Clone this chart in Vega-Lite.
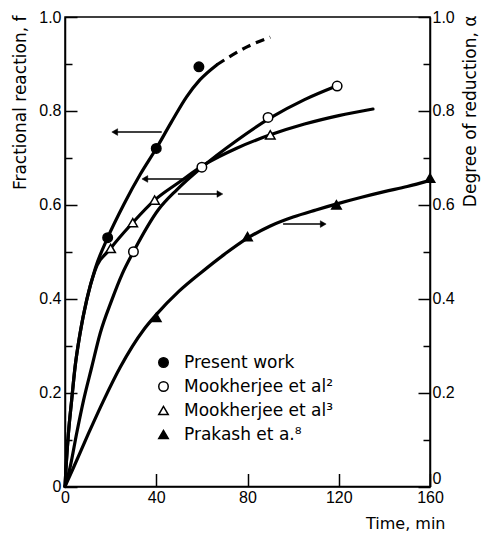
{
  "$schema": "https://vega.github.io/schema/vega-lite/v6.json",
  "width": 365,
  "height": 469.5,
  "autosize": {"type": "none"},
  "padding": {"left": 65, "top": 17, "right": 53, "bottom": 50.5},
  "background": "white",
  "config": {
    "view": {"stroke": "black", "strokeWidth": 1.5},
    "axis": {
      "grid": false,
      "domainColor": "black",
      "domainWidth": 1.5,
      "tickColor": "black",
      "tickWidth": 1.5,
      "labelColor": "black",
      "titleColor": "black",
      "labelFont": "Liberation Sans Narrow, Liberation Sans",
      "titleFont": "DejaVu Sans",
      "labelFontSize": 16,
      "titleFontSize": 17,
      "titleFontWeight": "normal",
      "labelOverlap": false,
      "labelFlush": false
    }
  },
  "datasets": {
    "curves": [
      {"series": "PW", "t": 0, "v": 0},
      {"series": "PW", "t": 0.45, "v": 0.04},
      {"series": "PW", "t": 1.5, "v": 0.113},
      {"series": "PW", "t": 2.9, "v": 0.183},
      {"series": "PW", "t": 4.4, "v": 0.254},
      {"series": "PW", "t": 6.6, "v": 0.326},
      {"series": "PW", "t": 9.5, "v": 0.397},
      {"series": "PW", "t": 13.3, "v": 0.465},
      {"series": "PW", "t": 18.7, "v": 0.53},
      {"series": "PW", "t": 26, "v": 0.603},
      {"series": "PW", "t": 33, "v": 0.665},
      {"series": "PW", "t": 40, "v": 0.72},
      {"series": "PW", "t": 46.5, "v": 0.775},
      {"series": "PW", "t": 53.3, "v": 0.83},
      {"series": "PW", "t": 59.1, "v": 0.866},
      {"series": "PW", "t": 66.5, "v": 0.898},
      {"series": "MJ2", "t": 0, "v": 0},
      {"series": "MJ2", "t": 2.2, "v": 0.04},
      {"series": "MJ2", "t": 5.1, "v": 0.113},
      {"series": "MJ2", "t": 8.1, "v": 0.183},
      {"series": "MJ2", "t": 11.7, "v": 0.254},
      {"series": "MJ2", "t": 15.4, "v": 0.326},
      {"series": "MJ2", "t": 20.5, "v": 0.397},
      {"series": "MJ2", "t": 25, "v": 0.452},
      {"series": "MJ2", "t": 30, "v": 0.5},
      {"series": "MJ2", "t": 41, "v": 0.59},
      {"series": "MJ2", "t": 49, "v": 0.632},
      {"series": "MJ2", "t": 60, "v": 0.68},
      {"series": "MJ2", "t": 75, "v": 0.736},
      {"series": "MJ2", "t": 90, "v": 0.785},
      {"series": "MJ2", "t": 105, "v": 0.824},
      {"series": "MJ2", "t": 119, "v": 0.853},
      {"series": "MJ3", "t": 0, "v": 0},
      {"series": "MJ3", "t": 0.45, "v": 0.04},
      {"series": "MJ3", "t": 1.5, "v": 0.113},
      {"series": "MJ3", "t": 2.9, "v": 0.183},
      {"series": "MJ3", "t": 4.4, "v": 0.254},
      {"series": "MJ3", "t": 6.6, "v": 0.326},
      {"series": "MJ3", "t": 9.5, "v": 0.397},
      {"series": "MJ3", "t": 13, "v": 0.458},
      {"series": "MJ3", "t": 20, "v": 0.507},
      {"series": "MJ3", "t": 29.7, "v": 0.562},
      {"series": "MJ3", "t": 39.3, "v": 0.61},
      {"series": "MJ3", "t": 50, "v": 0.648},
      {"series": "MJ3", "t": 62, "v": 0.688},
      {"series": "MJ3", "t": 75, "v": 0.72},
      {"series": "MJ3", "t": 90, "v": 0.749},
      {"series": "MJ3", "t": 105, "v": 0.772},
      {"series": "MJ3", "t": 120, "v": 0.79},
      {"series": "MJ3", "t": 135, "v": 0.804},
      {"series": "PR", "t": 0, "v": 0},
      {"series": "PR", "t": 3.7, "v": 0.04},
      {"series": "PR", "t": 10.3, "v": 0.113},
      {"series": "PR", "t": 16.9, "v": 0.183},
      {"series": "PR", "t": 24.2, "v": 0.254},
      {"series": "PR", "t": 34.5, "v": 0.334},
      {"series": "PR", "t": 40, "v": 0.366},
      {"series": "PR", "t": 50, "v": 0.416},
      {"series": "PR", "t": 60, "v": 0.457},
      {"series": "PR", "t": 70, "v": 0.495},
      {"series": "PR", "t": 80, "v": 0.529},
      {"series": "PR", "t": 90, "v": 0.555},
      {"series": "PR", "t": 100, "v": 0.574},
      {"series": "PR", "t": 110, "v": 0.589},
      {"series": "PR", "t": 120, "v": 0.603},
      {"series": "PR", "t": 130, "v": 0.616},
      {"series": "PR", "t": 140, "v": 0.628},
      {"series": "PR", "t": 150, "v": 0.639},
      {"series": "PR", "t": 160, "v": 0.652}
    ],
    "dashed": [
      {"t": 66.5, "v": 0.898},
      {"t": 72, "v": 0.915},
      {"t": 80, "v": 0.937},
      {"t": 90, "v": 0.957}
    ],
    "points": [
      {"series": "Present work", "t": 18.7, "v": 0.53},
      {"series": "Present work", "t": 40, "v": 0.72},
      {"series": "Present work", "t": 58.7, "v": 0.894},
      {"series": "Mookherjee et al²", "t": 30, "v": 0.5},
      {"series": "Mookherjee et al²", "t": 60, "v": 0.68},
      {"series": "Mookherjee et al²", "t": 89, "v": 0.786},
      {"series": "Mookherjee et al²", "t": 119.3, "v": 0.853},
      {"series": "Mookherjee et al³", "t": 20, "v": 0.507},
      {"series": "Mookherjee et al³", "t": 29.7, "v": 0.562},
      {"series": "Mookherjee et al³", "t": 39.3, "v": 0.61},
      {"series": "Mookherjee et al³", "t": 90, "v": 0.749},
      {"series": "Prakash et a.⁸", "t": 40, "v": 0.36},
      {"series": "Prakash et a.⁸", "t": 80, "v": 0.532},
      {"series": "Prakash et a.⁸", "t": 119, "v": 0.6},
      {"series": "Prakash et a.⁸", "t": 160, "v": 0.657}
    ],
    "arrows": [
      {"tail": 42.4, "tip": 21.8, "v": 0.755, "dir": "left"},
      {"tail": 53.4, "tip": 35, "v": 0.655, "dir": "left"},
      {"tail": 49.5, "tip": 67.9, "v": 0.623, "dir": "right"},
      {"tail": 95.6, "tip": 113.2, "v": 0.559, "dir": "right"}
    ]
  },
  "layer": [
    {
      "data": {"name": "curves"},
      "mark": {"type": "line", "interpolate": "monotone", "stroke": "black", "strokeWidth": 3.2, "strokeCap": "round"},
      "encoding": {
        "x": {
          "field": "t", "type": "quantitative",
          "scale": {"domain": [0, 160], "nice": false, "zero": true},
          "axis": {
            "orient": "bottom", "values": [0, 40, 80, 120, 160],
            "tickSize": -13, "labelPadding": 16,
            "title": "Time, min", "titleAlign": "right",
            "titleX": 380, "titleY": 42, "titleBaseline": "alphabetic", "titleFontSize": 16
          }
        },
        "y": {
          "field": "v", "type": "quantitative",
          "scale": {"domain": [0, 1], "nice": false},
          "axis": {
            "orient": "left", "values": [0, 0.2, 0.4, 0.6, 0.8, 1],
            "tickSize": -12, "labelPadding": 16,
            "labelExpr": "datum.value == 0 ? '0' : format(datum.value, '.1f')",
            "title": "Fractional reaction, f", "titleAngle": -90, "titleAlign": "right",
            "titleBaseline": "middle", "titleX": -45, "titleY": -2
          }
        },
        "detail": {"field": "series"}
      }
    },
    {
      "data": {"name": "dashed"},
      "mark": {"type": "line", "interpolate": "monotone", "stroke": "black", "strokeWidth": 3.2, "strokeDash": [9, 6]},
      "encoding": {
        "x": {"field": "t", "type": "quantitative", "axis": null},
        "y": {
          "field": "v", "type": "quantitative",
          "axis": {
            "orient": "left", "values": [0.1, 0.3, 0.5, 0.7, 0.9],
            "tickSize": -7, "labels": false, "domain": false, "title": null
          }
        }
      }
    },
    {
      "data": {"name": "points"},
      "mark": {"type": "point", "filled": true, "strokeWidth": 1.5, "size": 90, "opacity": 1},
      "encoding": {
        "x": {"field": "t", "type": "quantitative", "axis": null},
        "y": {
          "field": "v", "type": "quantitative",
          "axis": {
            "orient": "right", "values": [0, 0.2, 0.4, 0.6, 0.8, 1],
            "tickSize": -12, "labelPadding": 14,
            "labelExpr": "datum.value == 0 ? '0' : format(datum.value, '.1f')",
            "labelBaseline": {"condition": {"test": "datum.value == 0", "value": "bottom"}, "value": "middle"},
            "title": "Degree of reduction, α", "titleAngle": -90, "titleAlign": "right",
            "titleBaseline": "middle", "titleX": 40, "titleY": -2
          }
        },
        "shape": {
          "field": "series", "type": "nominal",
          "scale": {
            "domain": ["Present work", "Mookherjee et al²", "Mookherjee et al³", "Prakash et a.⁸"],
            "range": ["circle", "circle", "triangle-up", "triangle-up"]
          },
          "legend": {
            "orient": "none", "legendX": 90, "legendY": 337, "title": null,
            "labelFont": "DejaVu Sans", "labelFontSize": 17, "labelColor": "black",
            "symbolStrokeWidth": 1.5, "symbolSize": 90,
            "rowPadding": 6, "labelOffset": 12, "padding": 0
          }
        },
        "fill": {
          "field": "series", "type": "nominal",
          "scale": {
            "domain": ["Present work", "Mookherjee et al²", "Mookherjee et al³", "Prakash et a.⁸"],
            "range": ["black", "white", "white", "black"]
          },
          "legend": {
            "orient": "none", "legendX": 90, "legendY": 337, "title": null,
            "labelFont": "DejaVu Sans", "labelFontSize": 17, "labelColor": "black",
            "symbolStrokeWidth": 1.5, "symbolSize": 90,
            "rowPadding": 6, "labelOffset": 12, "padding": 0
          }
        },
        "stroke": {
          "field": "series", "type": "nominal",
          "scale": {
            "domain": ["Present work", "Mookherjee et al²", "Mookherjee et al³", "Prakash et a.⁸"],
            "range": ["black", "black", "black", "black"]
          },
          "legend": {
            "orient": "none", "legendX": 90, "legendY": 337, "title": null,
            "labelFont": "DejaVu Sans", "labelFontSize": 17, "labelColor": "black",
            "symbolStrokeWidth": 1.5, "symbolSize": 90,
            "rowPadding": 6, "labelOffset": 12, "padding": 0
          }
        }
      }
    },
    {
      "data": {"name": "arrows"},
      "mark": {"type": "rule", "stroke": "black", "strokeWidth": 1.6},
      "encoding": {
        "x": {"field": "tail", "type": "quantitative", "axis": null},
        "x2": {"field": "tip"},
        "y": {
          "field": "v", "type": "quantitative",
          "axis": {
            "orient": "right", "values": [0.1, 0.3, 0.5, 0.7, 0.9],
            "tickSize": -7, "labels": false, "domain": false, "title": null
          }
        }
      }
    },
    {
      "data": {"name": "arrows"},
      "transform": [{"filter": "datum.dir == 'left'"}],
      "mark": {"type": "point", "shape": "triangle-left", "filled": true, "fill": "black", "stroke": "black", "strokeWidth": 0.5, "size": 45, "opacity": 1},
      "encoding": {
        "x": {"field": "tip", "type": "quantitative", "axis": null},
        "y": {"field": "v", "type": "quantitative", "axis": null}
      }
    },
    {
      "data": {"name": "arrows"},
      "transform": [{"filter": "datum.dir == 'right'"}],
      "mark": {"type": "point", "shape": "triangle-right", "filled": true, "fill": "black", "stroke": "black", "strokeWidth": 0.5, "size": 45, "opacity": 1},
      "encoding": {
        "x": {"field": "tip", "type": "quantitative", "axis": null},
        "y": {"field": "v", "type": "quantitative", "axis": null}
      }
    }
  ],
  "resolve": {"axis": {"x": "independent", "y": "independent"}}
}
